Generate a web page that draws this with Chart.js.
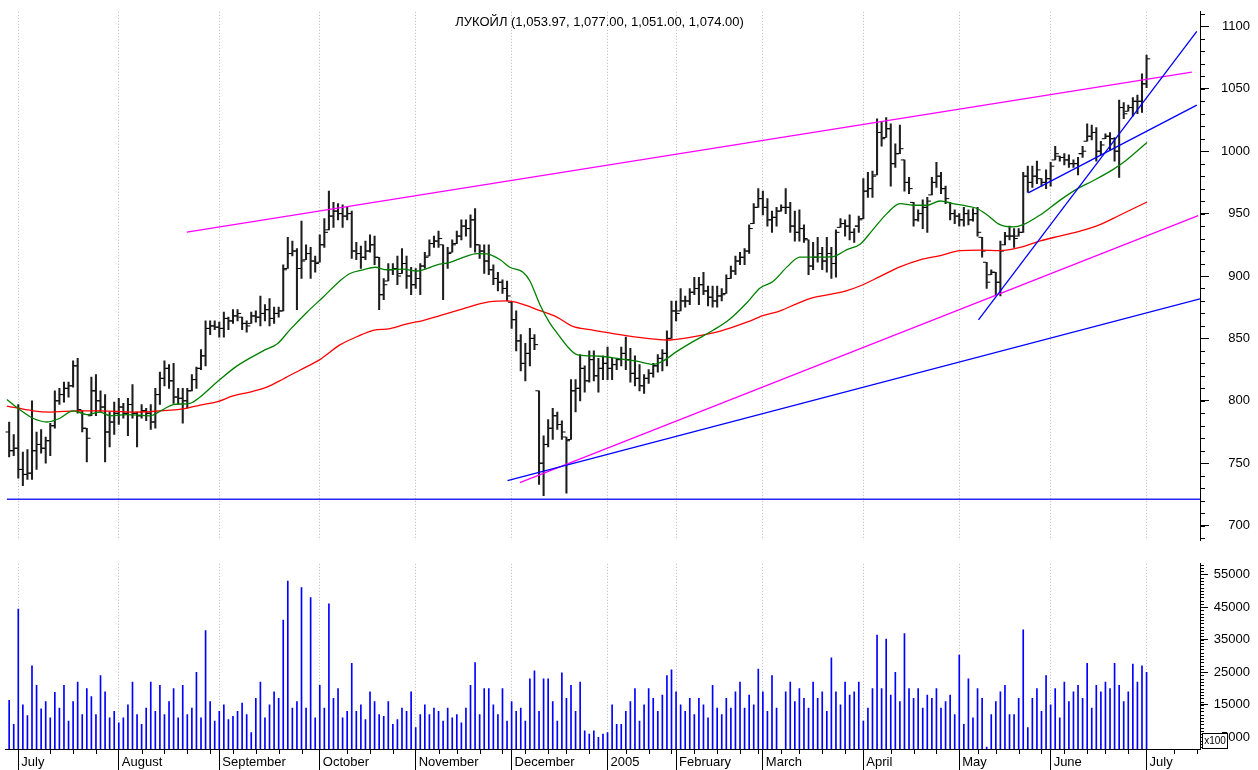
<!DOCTYPE html>
<html>
<head>
<meta charset="utf-8">
<script src="https://cdn.jsdelivr.net/npm/chart.js@4/dist/chart.umd.min.js"></script>
<style>
html, body { margin: 0; padding: 0; background: #fff; }
#wrap { position: relative; width: 1258px; height: 770px; }
#price { position: absolute; left: 0; top: 0; }
#volume { position: absolute; left: 0; top: 552px; }
</style>
</head>
<body>
<div id="wrap">
<canvas id="price" width="1258" height="552"></canvas>
<canvas id="volume" width="1258" height="218"></canvas>
</div>
<script>
const title = 'ЛУКОЙЛ (1,053.97, 1,077.00, 1,051.00, 1,074.00)';

// bar index of the first trading day of each month, and its label
const monthStarts = [2, 24, 46, 68, 89, 110, 131, 146, 165, 187, 208, 228, 249];
const monthLabels = ['July', 'August', 'September', 'October', 'November', 'December', '2005',
  'February', 'March', 'April', 'May', 'June', 'July'];
// first trading day of each week (minor ticks)
const weekTicks = [9, 14, 19, 29, 34, 39, 44, 49, 54, 59, 64, 74, 79, 84, 94, 98, 103, 108,
  113, 118, 122, 127, 135, 140, 145, 150, 155, 160, 164, 169, 173, 178, 183, 193, 198, 203,
  212, 216, 221, 226, 231, 236, 240, 245, 255, 260];

const priceTicks = [700, 750, 800, 850, 900, 950, 1000, 1050, 1100];
const volumeTicks = [5000, 10000, 15000, 20000, 25000, 30000, 35000, 40000, 45000, 50000, 55000];

const opens = [
  775,760,762,745,741,742,760,765,762,768, 780,800,805,810,812,828,792,778,788,808,
  800,795,775,783,790,795,790,797,790,788, 792,790,783,805,818,826,816,803,802,800,
  808,817,826,836,858,860,859,858,866,864, 868,867,862,862,868,867,870,873,866,870,
  872,906,918,920,906,913,918,912,911,925, 937,948,952,950,948,950,920,918,915,920,
  925,915,885,896,905,906,902,910,900,893, 898,908,916,926,928,925,910,919,926,932,
  940,938,945,925,920,912,905,898,895,890, 879,865,848,830,838,850,808,750,765,778,
  788,781,771,769,808,810,826,816,833,820, 826,830,826,829,833,838,833,822,818,812,
  818,822,828,834,838,850,872,872,880,880, 887,890,893,888,883,880,884,886,898,904,
  912,915,920,942,955,962,955,945,947,952, 955,955,940,935,938,929,908,915,918,912,
  918,910,939,942,940,935,940,946,968,970, 981,1015,1011,1018,990,998,993,975,959,945,
  950,955,965,975,980,970,959,950,948,945, 950,945,950,931,911,901,903,895,925,932,
  932,932,935,980,975,980,978,975,978,993, 996,995,993,990,990,998,1008,1012,1015,1000,
  1010,1012,1010,1000,1035,1032,1035,1040,1040,1053.97
];
const highs = [
  783,773,797,759,761,800,775,777,771,782, 808,810,815,815,832,834,792,778,819,821,
  808,805,791,799,802,798,802,813,791,797, 794,797,810,823,832,829,830,810,810,810,
  821,827,841,864,864,864,863,871,867,873, 873,867,864,871,872,884,877,882,875,875,
  909,931,928,922,944,925,923,916,933,946, 968,959,958,957,955,952,927,924,928,933,
  932,915,898,910,910,916,922,916,907,906, 910,919,929,932,936,925,923,929,936,945,
  945,949,954,925,925,925,909,903,897,896, 879,872,853,846,858,853,808,772,785,794,
  791,784,771,817,817,837,828,840,840,834, 836,843,834,834,843,851,842,836,829,821,
  825,830,837,841,856,880,880,890,884,890, 899,899,903,892,892,892,890,901,908,916,
  919,922,941,958,970,968,962,952,955,957, 970,959,952,953,941,929,927,931,923,931,
  923,937,946,945,949,938,948,978,983,984, 1026,1024,1027,1022,1006,1021,993,979,959,953,
  961,963,979,991,983,972,959,953,950,955, 953,954,955,931,911,905,903,928,935,940,
  938,938,983,988,988,992,978,985,991,1004, 996,998,997,993,995,1004,1022,1021,1019,1008,
  1014,1015,1011,1041,1039,1037,1043,1045,1062,1077
];
const lows = [
  755,756,738,732,737,737,745,758,750,756, 778,797,799,803,811,790,775,751,788,788,
  791,751,763,773,781,786,772,786,763,786, 784,777,778,797,812,810,798,797,782,794,
  808,810,825,828,853,857,851,851,857,862, 864,857,855,862,863,860,864,860,862,867,
  872,906,916,873,898,913,898,903,911,923, 937,939,945,939,945,914,913,906,913,919,
  909,873,881,896,901,893,902,890,885,890, 885,906,916,923,923,881,906,919,926,929,
  932,923,919,914,902,901,893,888,886,880, 858,840,824,816,828,841,733,724,763,769,
  777,769,726,769,791,800,807,815,816,807, 817,817,817,825,828,825,815,812,808,806,
  814,819,823,824,828,850,864,872,875,877, 885,877,885,876,875,875,880,886,898,901,
  909,909,918,942,955,949,940,935,940,952, 950,935,928,928,927,901,905,911,905,903,
  898,899,939,932,929,927,935,946,963,963, 981,1004,1011,972,987,998,968,966,940,944,
  938,935,965,971,966,958,945,942,940,940, 941,944,932,915,890,901,885,884,925,929,
  923,932,935,967,971,974,972,970,972,993, 992,989,987,987,981,995,1008,1009,992,997,
  1010,1001,992,979,1026,1032,1028,1030,1031,1051
];
const closes = [
  760,762,745,741,742,760,765,762,768,780, 800,805,810,812,828,793,778,770,808,800,
  795,775,783,790,795,790,797,790,788,792, 790,783,805,818,826,816,803,802,800,808,
  817,826,836,858,860,859,858,866,864,868, 870,862,860,868,867,870,873,866,870,872,
  905,918,920,906,912,918,912,910,925,935, 948,952,950,948,950,920,918,915,920,925,
  915,885,893,905,906,900,910,900,893,898, 908,915,926,928,930,910,918,925,932,940,
  938,945,925,920,912,905,898,895,890,884, 865,848,830,838,850,845,750,765,778,788,
  781,775,768,808,810,826,816,833,820,826, 830,826,829,833,838,833,822,818,812,818,
  822,828,834,838,850,872,870,880,880,887, 890,893,888,883,880,884,885,898,904,912,
  915,920,938,955,962,955,945,947,952,955, 955,940,935,938,930,908,915,918,912,918,
  910,935,942,940,935,940,945,968,970,980, 1015,1010,1018,990,998,1002,975,970,945,950,
  955,960,975,980,970,962,950,948,945,950, 945,950,935,920,895,903,895,920,932,932,
  930,935,980,975,980,985,975,978,988,998, 995,993,990,990,998,1000,1012,1015,1000,1005,
  1012,1010,1000,1035,1030,1035,1040,1040,1054,1074
];
const volumes = [
  16400,9000,44400,15000,11700,27000,21000,13800,16000,11000, 18800,14000,21000,10000,16000,22000,12000,20000,17500,12000,
  24000,19000,11000,13000,9500,11000,15000,22000,12000,9000, 14000,22000,13000,21000,12000,16000,20000,11000,21000,12000,
  14000,25000,11000,37800,16000,10000,13000,15000,10500,11500, 13000,15500,12000,6500,17000,22000,11000,15000,19000,17000,
  41000,53000,14000,16000,51000,14000,47900,11000,21000,14000, 46000,17000,20000,11000,13000,27700,13000,15000,10500,19000,
  16000,12000,11500,16000,9000,10500,14000,13000,19000,8000, 12000,15000,12000,14000,13000,10000,14000,11000,12000,9500,
  14000,21000,28000,12000,20000,20000,15000,12000,20000,10000, 16000,13000,14000,10000,23000,25400,13000,23000,23000,16000,
  10000,24800,17000,21000,13000,22000,7000,6000,7000,5000, 6000,6500,15000,9000,9000,13000,16000,20000,10000,15000,
  20000,17000,13000,18000,24000,25700,19000,15000,13000,17000, 12000,17000,15000,11000,21000,14000,12000,17000,14000,19000,
  22000,14000,18000,15000,26000,19000,13000,24000,14000,1000, 19000,22000,16000,20000,17000,14000,22000,17000,19000,13000,
  29400,19000,15000,22000,18000,19000,22000,10000,14000,20000, 36400,20000,35200,18000,25000,16000,36900,20000,17000,20000,
  14000,18000,17000,20000,14000,16000,18000,12000,30300,9000, 23000,11000,20000,17000,2000,12000,16000,19000,21000,12000,
  12000,17000,38000,8000,17000,20000,13000,24000,15000,20000, 11000,22000,16000,19000,21000,17000,27700,14000,21000,19000,
  22000,20000,27700,21000,16000,19000,27500,22000,27000,25000
];

// moving averages: [bar index, price]
const greenMA = [[-0.5,801],[1.9,794],[5.2,786],[8.3,783],[11.1,786],[14,792],[17,789],[19.9,791],[22.1,788],[25.8,789],
  [30.8,788],[33.7,793],[35.9,797],[39.6,798],[41.8,803],[45.5,815],[49.9,828],[55.6,840],[58.8,846],[61.5,857],
  [65.2,871],[68.7,883],[72.4,896],[74.6,902],[77.5,905],[80.1,907],[82.7,905],[86.2,905.5],[89.3,904],[93.7,909],
  [96.5,911],[99.4,915],[102.4,918],[104.6,917.7],[107.5,913],[109.6,907],[112.5,903],[114,896],[116.2,877],[118.4,862],
  [120,854],[122.1,844],[124.3,837],[127.2,836],[129.3,835.7],[133.7,833.6],[137.4,831.8],[141,829.2],[143.1,831.8],[146.2,839.6],
  [149.7,847.4],[154.1,856.5],[157.8,865.6],[161.5,878.6],[164.4,890.4],[167.2,895.6],[170.3,907.3],[173.1,915.1],[176,915.1],[180.4,915.6],
  [183.4,921.1],[186.3,925.5],[189.1,937.2],[192.2,950.2],[195,958],[197.9,956.7],[200.9,956.7],[203.8,960.1],[206.6,958],[209.7,956],
  [211.9,954.1],[214.1,948.9],[216.9,941.1],[219.8,939.3],[222,941.1],[225.7,948.9],[230,960.6],[233.8,969.8],[237.3,976.3],[241.7,985.4],
  [244.7,993.2],[249.1,1007]];
const redMA = [[-0.5,795.8],[5.2,792],[8.9,791],[14.9,792],[19.9,792],[27.1,791],[30.8,791.4],[38,793.5],[41.8,796.6],[45.5,799.2],
  [49,803.9],[52.7,807],[56.4,811],[60,817.5],[63.7,824.7],[68,833],[72.4,844.8],[76.1,851.3],[79.7,856.5],[83.4,857.8],
  [87.1,861.7],[90.6,864.3],[94.3,868.2],[98,872.2],[101.5,876.1],[105.3,879.4],[109,880],[112.5,877.3],[116.2,872.2],[120,866.9],
  [123.4,859.6],[127.2,857],[132.2,853.9],[139.6,850],[144,848.7],[148.4,850.5],[154.1,854.4],[157.8,858.3],[161.5,863],[165,868.2],
  [168.8,872.1],[172.5,877.9],[176,882.6],[179.7,885.2],[183.4,888.3],[186.9,893],[190.6,899.5],[195,907.3],[199.4,913],[203.8,916.4],
  [208.2,920.3],[212.5,920.8],[216.9,920.3],[221.3,922.9],[225.7,928.1],[230,932],[234.4,935.9],[238.8,941.1],[243.2,948.9],[249.1,959.3]];

// hand-drawn trend lines: [bar index, price] end points
const channelTop = [[38.9, 935.1], [258.9, 1063.3]];
const channelBottom = [[111.8, 734.4], [260.3, 948.4]];
const supportLong = [[109.1, 736.0], [260.7, 881.7]];
const supportFlat = [[-0.5, 721.1], [260.7, 721.1]];
const trendSteep = [[212.2, 864.8], [260.0, 1096.1]];
const trendMid = [[223.1, 966.6], [260.0, 1036.9]];

const X_MIN = -0.91, X_MAX = 260.7;
const FONT = '"Liberation Sans", Arial, sans-serif';
Chart.defaults.font.family = FONT;
Chart.defaults.font.size = 13;
Chart.defaults.color = '#000';

const priceMinor = [];
for (let v = 690; v <= 1110; v += 10) priceMinor.push(v);
const volumeMinor = [];
for (let v = 2000; v <= 58000; v += 1000) volumeMinor.push(v);

// minor ticks, title and the x100 box
const paneDecor = {
  id: 'paneDecor',
  afterDraw(chart, args, o) {
    const ctx = chart.ctx, xs = chart.scales.x, ys = chart.scales.y, area = chart.chartArea;
    ctx.save();
    ctx.strokeStyle = '#000';
    ctx.lineWidth = 1;
    ctx.beginPath();
    (o.yMinor || []).forEach(v => {
      const p = Math.round(ys.getPixelForValue(v)) + 0.5;
      if (p < area.top || p > area.bottom) return;
      ctx.moveTo(ys.left, p);
      ctx.lineTo(ys.left + o.yMinorLen, p);
    });
    (o.xMinor || []).forEach(v => {
      const p = Math.round(xs.getPixelForValue(v)) + 0.5;
      ctx.moveTo(p, area.bottom);
      ctx.lineTo(p, area.bottom + o.xMinorLen);
    });
    ctx.stroke();
    if (o.title) {
      ctx.fillStyle = '#000';
      ctx.font = '13px ' + FONT;
      ctx.textAlign = 'center';
      ctx.textBaseline = 'middle';
      ctx.fillText(o.title, (area.left + area.right) / 2 - 3, 22);
    }
    if (o.multiplier) {
      const bx = ys.left + 2.5, by = area.bottom - 15.5;
      ctx.fillStyle = '#fff';
      ctx.fillRect(bx, by, 25, 15);
      ctx.strokeRect(bx, by, 25, 15);
      ctx.fillStyle = '#000';
      ctx.font = '10px ' + FONT;
      ctx.textAlign = 'center';
      ctx.textBaseline = 'middle';
      ctx.fillText(o.multiplier, bx + 12.5, by + 8);
    }
    ctx.restore();
  }
};

const pts = arr => arr.map(([x, y]) => ({ x, y }));
const lineSet = (arr, color, width) => ({
  type: 'line', data: pts(arr), borderColor: color, borderWidth: width || 1.3,
  pointRadius: 0, fill: false
});

new Chart(document.getElementById('price'), {
  type: 'scatter',
  data: {
    datasets: [
      lineSet(trendSteep, '#0000ff'),
      lineSet(trendMid, '#0000ff'),
      lineSet(supportLong, '#0000ff'),
      lineSet(supportFlat, '#2a2aff', 1.5),
      lineSet(channelTop, '#ff00ff'),
      lineSet(channelBottom, '#ff00ff'),
      Object.assign(lineSet(greenMA, '#008000'), { cubicInterpolationMode: 'monotone' }),
      Object.assign(lineSet(redMA, '#ff0000'), { cubicInterpolationMode: 'monotone' }),
      {
        type: 'scatter', data: opens.map((v, i) => ({ x: i - 0.45, y: v })),
        pointStyle: 'line', pointRadius: 1.6, borderColor: '#000', borderWidth: 1
      },
      {
        type: 'scatter', data: closes.map((v, i) => ({ x: i + 0.45, y: v })),
        pointStyle: 'line', pointRadius: 1.6, borderColor: '#000', borderWidth: 1
      },
      {
        type: 'bar', data: highs.map((h, i) => ({ x: i, y: [lows[i], h] })),
        backgroundColor: '#1e1e1e', barThickness: 1.4
      }
    ]
  },
  options: {
    responsive: false,
    animation: false,
    events: [],
    layout: { padding: { left: 5, right: 8, top: 10, bottom: 0 } },
    plugins: {
      legend: { display: false },
      tooltip: { enabled: false },
      paneDecor: { yMinor: priceMinor, yMinorLen: 5, title: title }
    },
    scales: {
      x: {
        type: 'linear', min: X_MIN, max: X_MAX, offset: false,
        afterBuildTicks: s => { s.ticks = monthStarts.map(v => ({ value: v })); },
        afterFit: s => { s.height = 0; },
        ticks: { display: false },
        grid: { color: '#b8b8b8', drawTicks: false, offset: false },
        border: { display: false, dash: [1, 2] }
      },
      y: {
        type: 'linear', position: 'right', min: 688.3, max: 1111.7,
        afterBuildTicks: s => { s.ticks = priceTicks.map(v => ({ value: v })); },
        afterFit: s => { s.width = 50; },
        ticks: { crossAlign: 'far', padding: 4, callback: v => String(v) },
        grid: { drawOnChartArea: false, tickLength: 9, tickColor: '#000' },
        border: { color: '#000', width: 1 }
      }
    }
  },
  plugins: [paneDecor]
});

new Chart(document.getElementById('volume'), {
  type: 'bar',
  data: {
    datasets: [{
      data: volumes.map((v, i) => ({ x: i, y: v })),
      backgroundColor: '#0000ff', barThickness: 1
    }]
  },
  options: {
    responsive: false,
    animation: false,
    events: [],
    layout: { padding: { left: 5, right: 8, top: 0, bottom: 0 } },
    plugins: {
      legend: { display: false },
      tooltip: { enabled: false },
      paneDecor: { yMinor: volumeMinor, yMinorLen: 4, xMinor: weekTicks, xMinorLen: 5, multiplier: 'x100' }
    },
    scales: {
      x: {
        type: 'linear', min: X_MIN, max: X_MAX, offset: false,
        afterBuildTicks: s => { s.ticks = monthStarts.map(v => ({ value: v })); },
        afterFit: s => { s.height = 21; },
        ticks: {
          callback: (v, k) => monthLabels[k], align: 'start', labelOffset: 3,
          padding: -15, maxRotation: 0, autoSkip: false
        },
        grid: { color: '#b8b8b8', tickColor: '#000', tickLength: 21, offset: false, tickBorderDash: [] },
        border: { color: '#000', width: 1, dash: [1, 2] }
      },
      y: {
        type: 'linear', position: 'right', min: 1442, max: 58277,
        afterBuildTicks: s => { s.ticks = volumeTicks.map(v => ({ value: v })); },
        afterFit: s => { s.width = 50; },
        ticks: { crossAlign: 'far', padding: 4, callback: v => String(v) },
        grid: { drawOnChartArea: false, tickLength: 8, tickColor: '#000' },
        border: { color: '#000', width: 1 }
      }
    }
  },
  plugins: [paneDecor]
});
</script>
</body>
</html>
